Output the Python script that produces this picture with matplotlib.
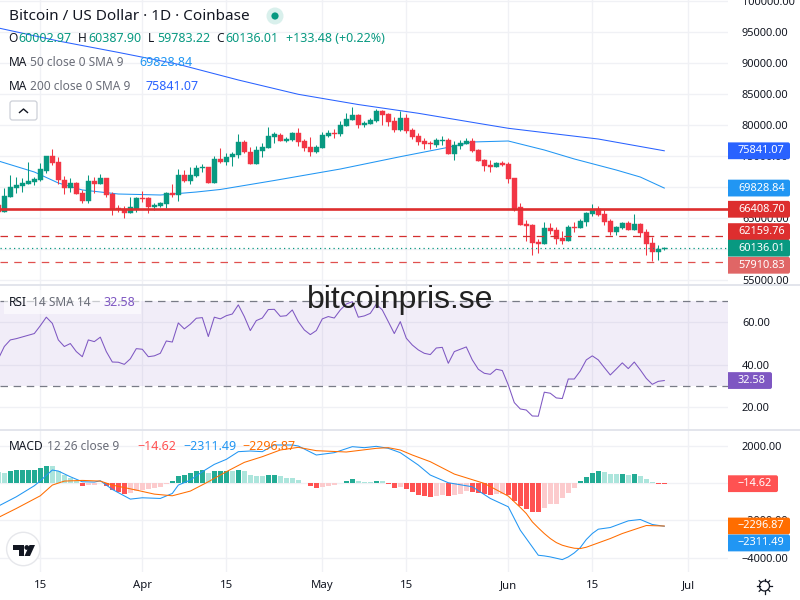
#!/usr/bin/env python
# coding: utf-8

import numpy as np
import pandas as pd
import matplotlib
matplotlib.use("Agg")
import matplotlib.pyplot as plt
import matplotlib.dates as mdates
from matplotlib.patches import Circle, FancyBboxPatch, Polygon, Rectangle

FONT = "Noto Sans"
plt.rcParams["font.family"] = FONT

GREEN = "#089981"
RED = "#F23645"
GRID = "#F0F1F5"
SEP = "#E0E3EB"
TEXT = "#131722"
GREY = "#6A6D78"

opens = [67100, 65910, 68440, 69780, 70160, 70480, 70750, 71130, 72580, 75050, 73980, 71130, 69780, 70590,
         69090, 67740, 70910, 70480, 71450, 68870, 66560, 66450, 65860, 66450, 68170, 68170, 66830, 66930,
         67260, 68980, 68760, 71940, 71020, 71770, 73010, 73170, 70700, 74460, 74090, 74890, 75160, 77260,
         75700, 73760, 75860, 76340, 78120, 78390, 77470, 77580, 78660, 77470, 76400, 75590, 76340, 78230,
         78710, 78550, 79840, 80810, 81610, 79950, 80160, 80650, 82260, 81780, 80590, 79190, 81180, 79190,
         78230, 77420, 77150, 76780, 77470, 77580, 75370, 76660, 76940, 77420, 75970, 74360, 73550, 73230,
         73920, 73710, 71450, 66780, 64030, 63870, 61180, 60860, 63390, 63070, 61780, 61290, 63550, 63390,
         64360, 65650, 66450, 65650, 64520, 62740, 63390, 64190, 63070, 64030, 62740, 60970, 59520, 60002.97]
highs = [67360, 69780, 71940, 71670, 71400, 73980, 71670, 73820, 75050, 76130, 74790, 71770, 71510, 70860,
         69520, 71940, 71560, 72100, 71450, 69140, 67100, 66990, 68330, 68440, 69350, 68440, 67360, 67630,
         69250, 70480, 72900, 72740, 73280, 73550, 73710, 73170, 75000, 76240, 75430, 75700, 78500, 77580,
         76400, 76610, 77040, 79680, 78930, 78660, 78120, 78930, 79520, 77690, 78010, 76770, 78930, 79190,
         79300, 80700, 81880, 82850, 81780, 80700, 81080, 82530, 82420, 81990, 81350, 82260, 81780, 79520,
         78760, 77950, 77470, 77950, 78230, 77860, 77420, 77580, 77950, 77900, 76130, 74520, 74360, 74030,
         74200, 74030, 71450, 67420, 64680, 64030, 61560, 64360, 64240, 63600, 62860, 63870, 64360, 64840,
         65970, 67260, 66940, 66290, 64840, 63710, 64360, 64520, 65650, 64190, 63230, 61940, 60650, 60387.90]
lows = [65750, 65910, 68440, 68980, 69250, 70480, 70320, 70970, 72200, 73550, 70480, 68820, 69250, 68870,
        67470, 67360, 69090, 70480, 68330, 65480, 65910, 65050, 65860, 66020, 67630, 65860, 66290, 66720,
        66560, 68440, 67740, 70860, 70480, 71670, 72470, 70700, 70700, 73920, 73550, 73390, 74620, 75540,
        73760, 73760, 74890, 76340, 77150, 77370, 77310, 77470, 76670, 75860, 75050, 75430, 76340, 78120,
        77850, 78230, 79840, 80810, 79520, 79730, 80160, 80480, 80000, 79840, 78930, 79030, 78710, 77740,
        76820, 76130, 76130, 76450, 76780, 75370, 74360, 76130, 76940, 75700, 74200, 72580, 72420, 73230,
        73390, 70700, 66130, 63870, 61340, 59030, 59310, 60860, 62420, 60810, 60810, 61290, 62740, 63390,
        63710, 65320, 65320, 63870, 62260, 62260, 63230, 63070, 63070, 61940, 59030, 58070, 58230, 59783.22]
closes = [65910, 68550, 70050, 70320, 70700, 70970, 71290, 72900, 75050, 73920, 71130, 69780, 70700, 68870,
          67740, 70970, 70480, 71450, 68760, 66450, 66400, 65860, 66720, 68170, 68060, 66770, 67040, 67360,
          69090, 68710, 71940, 70970, 71940, 73120, 73170, 70700, 74460, 74090, 74790, 75320, 77260, 75650,
          73760, 75970, 76450, 78230, 78500, 77470, 77740, 78660, 77310, 76340, 75700, 76450, 78390, 78660,
          78600, 80000, 80970, 81610, 80000, 80270, 80810, 82260, 81610, 80540, 79190, 81130, 79030, 78110,
          77310, 76940, 76890, 77580, 77580, 75370, 76780, 77150, 77420, 75860, 74200, 73390, 73280, 73870,
          73600, 71340, 66290, 63870, 63760, 61020, 60860, 63390, 62900, 61610, 61290, 63550, 63440, 64520,
          65810, 66290, 65480, 64360, 62740, 63550, 64190, 63070, 64030, 62580, 60810, 59520, 60000, 60136.01]

ma200_dates = ["2024-03-08", "2024-03-18", "2024-03-28", "2024-04-07", "2024-04-17", "2024-04-27", "2024-05-07",
               "2024-05-17", "2024-05-27", "2024-06-01", "2024-06-06", "2024-06-16", "2024-06-27"]
ma200 = [95650, 93550, 91710, 89790, 87260, 84950, 83300, 81890, 80270, 79470, 78890, 77740, 75841.07]

ma50_dates = ["2024-03-08", "2024-03-14", "2024-03-18", "2024-03-22", "2024-03-28", "2024-04-04", "2024-04-10",
              "2024-04-14", "2024-04-23", "2024-05-04", "2024-05-14", "2024-05-22", "2024-05-26", "2024-06-01",
              "2024-06-07", "2024-06-12", "2024-06-19", "2024-06-23", "2024-06-27"]
ma50 = [74200, 72420, 70650, 69520, 68870, 68710, 69190, 69600, 71050, 72900, 74890, 76400, 77260, 77420,
        75970, 74520, 72740, 71610, 69828.84]

rsi = [42.8, 48.6, 51.7, 52.3, 53.1, 53.9, 54.7, 58.4, 62.4, 59.5, 51.7, 48.6, 50.0, 46.2, 43.8, 51.7, 50.9, 53.0,
       46.2, 41.3, 41.2, 40.2, 42.8, 47.6, 47.3, 43.8, 44.2, 45.4, 51.2, 50.7, 59.7, 56.9, 59.1, 61.9, 62.2, 53.3,
       62.4, 61.6, 63.1, 63.9, 68.2, 62.7, 56.1, 60.8, 62.0, 66.0, 66.1, 62.8, 63.1, 65.8, 60.3, 56.4, 54.2, 56.1,
       61.6, 62.7, 62.0, 65.8, 68.6, 69.7, 62.4, 63.0, 64.2, 68.5, 65.8, 60.3, 54.7, 60.3, 52.5, 49.3, 47.0, 45.4,
       44.8, 47.9, 48.2, 40.7, 46.2, 47.3, 48.4, 42.3, 37.9, 36.0, 35.5, 37.9, 37.3, 30.5, 22.2, 19.2, 18.7, 15.9,
       15.8, 27.1, 26.6, 24.4, 24.1, 33.3, 33.3, 37.1, 42.3, 44.2, 42.3, 38.7, 35.2, 38.0, 40.9, 38.2, 41.3, 37.6,
       33.6, 30.8, 32.2, 32.58]

macd_hist = [595, 577, 685, 721, 724, 728, 732, 847, 937, 928, 667, 451, 270, 144, -126, -90, -72, 36, -126, -360,
             -487, -577, -505, -396, -360, -288, -270, -198, -54, 126, 396, 451, 577, 685, 721, 577, 685, 688, 692,
             685, 739, 667, 451, 414, 405, 451, 454, 396, 288, 279, 180, 36, -144, -252, -180, -126, -90, 36, 108,
             234, 126, 90, 81, 126, 108, -18, -234, -216, -306, -469, -631, -685, -739, -685, -631, -685, -631,
             -577, -432, -469, -541, -577, -613, -577, -573, -649, -955, -1243, -1388, -1532, -1550, -1333, -1117,
             -1114, -793, -523, -252, 108, 342, 559, 667, 613, 505, 496, 501, 451, 505, 396, 234, 90, -9, -14.62]

macd_dates = ["2024-03-08", "2024-03-11", "2024-03-14", "2024-03-15", "2024-03-17", "2024-03-18", "2024-03-20",
              "2024-03-22", "2024-03-24", "2024-03-25", "2024-03-27", "2024-03-30", "2024-04-01", "2024-04-04",
              "2024-04-06", "2024-04-07", "2024-04-09", "2024-04-11", "2024-04-13", "2024-04-15", "2024-04-17",
              "2024-04-19", "2024-04-21", "2024-04-23", "2024-04-26", "2024-04-27", "2024-04-30", "2024-05-03",
              "2024-05-06", "2024-05-08", "2024-05-10", "2024-05-12", "2024-05-14", "2024-05-17", "2024-05-19",
              "2024-05-22", "2024-05-26", "2024-05-29", "2024-06-01", "2024-06-02", "2024-06-03", "2024-06-04",
              "2024-06-05", "2024-06-06", "2024-06-07", "2024-06-08", "2024-06-10", "2024-06-11", "2024-06-12",
              "2024-06-13", "2024-06-14", "2024-06-15", "2024-06-16", "2024-06-18", "2024-06-21", "2024-06-23",
              "2024-06-25", "2024-06-27"]
macd_line = [-1225, -721, -126, 144, 721, 667, 360, 90, 72, 144, -324, -847, -775, -811, -541, -90, 180, 631, 1027,
             1297, 1712, 1748, 1712, 2072, 2072, 2018, 1532, 1658, 1982, 1928, 2000, 1892, 1658, 991, 451, 36, -180,
             -811, -1261, -1892, -2523, -2973, -3424, -3874, -3910, -3964, -4109, -3964, -3748, -3460, -3027, -2703,
             -2469, -2379, -2018, -1946, -2216, -2311.49]

signal_dates = ["2024-03-08", "2024-03-11", "2024-03-15", "2024-03-17", "2024-03-19", "2024-03-22", "2024-03-25",
                "2024-03-27", "2024-03-31", "2024-04-03", "2024-04-06", "2024-04-09", "2024-04-12", "2024-04-15",
                "2024-04-18", "2024-04-21", "2024-04-24", "2024-04-27", "2024-04-30", "2024-05-05", "2024-05-10",
                "2024-05-12", "2024-05-14", "2024-05-16", "2024-05-19", "2024-05-23", "2024-05-28", "2024-06-01",
                "2024-06-02", "2024-06-03", "2024-06-04", "2024-06-05", "2024-06-06", "2024-06-07", "2024-06-08",
                "2024-06-09", "2024-06-10", "2024-06-11", "2024-06-12", "2024-06-13", "2024-06-14", "2024-06-16",
                "2024-06-18", "2024-06-20", "2024-06-24", "2024-06-27"]
signal_line = [-1838, -1352, -667, -90, 126, 162, 126, -90, -360, -577, -667, -414, 90, 631, 1135, 1442, 1802, 1946,
               1766, 1694, 1892, 1928, 1802, 1532, 1171, 505, 0, -685, -991, -1297, -1622, -2072, -2397, -2703,
               -2973, -3190, -3334, -3424, -3496, -3514, -3442, -3208, -2973, -2703, -2271, -2296.87]

price_ticks = list(range(55000, 100001, 5000))
rsi_ticks = [20, 40, 60]
macd_ticks = [-4000, -2000, 0, 2000]
date_ticks = ["2024-03-15", "2024-04-01", "2024-04-15", "2024-05-01", "2024-05-15", "2024-06-01", "2024-06-15",
              "2024-07-01"]
date_labels = ["15", "Apr", "15", "May", "15", "Jun", "15", "Jul"]

last_price = closes[-1]
line_up = 66408.70
line_mid = 62159.76
line_low = 57910.83

days = mdates.date2num(pd.date_range("2024-03-08", periods=len(closes)))


def to_num(dates):
    return mdates.date2num(pd.to_datetime(dates))


apr1 = mdates.date2num(pd.Timestamp("2024-04-01"))
xlim = (apr1 - 23.72, apr1 + 97.62)

fig = plt.figure(figsize=(8, 6), dpi=100, facecolor="white")


def pane(top, bottom):
    a = fig.add_axes([0, 1 - bottom / 600, 728 / 800, (bottom - top) / 600])
    for s in a.spines.values():
        s.set_visible(False)
    a.set_xlim(*xlim)
    a.set_xticks(to_num(date_ticks))
    a.set_xticklabels([])
    a.yaxis.tick_right()
    a.tick_params(length=0, labelsize=7.9, labelcolor=TEXT, pad=10)
    a.grid(True, color=GRID, lw=1.0)
    a.set_axisbelow(True)
    return a


# price pane
ax = pane(0, 285)
ax.set_ylim(54194, 100161)
ax.set_yticks(price_ticks)
ax.set_yticklabels(["%.2f" % t for t in price_ticks])

ax.plot(to_num(ma200_dates), ma200, color="#2962FF", lw=0.75, zorder=2)
ax.plot(to_num(ma50_dates), ma50, color="#2196F3", lw=0.75, zorder=2)

colors = [GREEN if c >= o else RED for o, c in zip(opens, closes)]
bottoms = np.minimum(opens, closes)
heights = np.abs(np.array(closes) - np.array(opens))
ax.vlines(days, lows, highs, color=colors, lw=0.75, zorder=3)
ax.bar(days, heights, bottom=bottoms, width=0.84, color=colors, edgecolor=colors, lw=0.3, zorder=4)

ax.axhline(line_up, color="#DD2E2E", lw=1.9, zorder=5)
ax.axhline(line_mid, color="#D32F2F", lw=0.9, ls=(0, (6, 5)), zorder=5)
ax.axhline(line_low, color="#E0504F", lw=0.9, ls=(0, (6, 5)), zorder=5)
ax.axhline(last_price, color=GREEN, lw=0.9, ls=(0, (1, 2.6)), zorder=5)

# rsi pane
ax_rsi = pane(285, 430)
ax_rsi.set_ylim(9.3, 77.55)
ax_rsi.set_yticks(rsi_ticks)
ax_rsi.set_yticklabels(["%.2f" % t for t in rsi_ticks])
ax_rsi.axhspan(30, 70, color="#7E57C2", alpha=0.1, lw=0, zorder=1)
ax_rsi.axhline(70, color="#787B86", lw=0.9, ls=(0, (6, 4.5)), zorder=2)
ax_rsi.axhline(30, color="#787B86", lw=0.9, ls=(0, (6, 4.5)), zorder=2)
ax_rsi.plot(days, rsi, color="#7E57C2", lw=0.75, zorder=3)

# macd pane
ax_macd = pane(430, 572)
ax_macd.set_ylim(-4778, 2881)
ax_macd.set_yticks(macd_ticks)
ax_macd.set_yticklabels(["\u2212%.2f" % -t if t < 0 else "%.2f" % t for t in macd_ticks])

hist_colors = []
for i, v in enumerate(macd_hist):
    prev = macd_hist[i - 1] if i else v + 1
    if v >= 0:
        hist_colors.append("#22AB94" if v > prev else "#ACE5DC")
    else:
        hist_colors.append("#FF5252" if v < prev else "#FCCBCD")
ax_macd.bar(days, macd_hist, width=0.84, color=hist_colors, lw=0, zorder=2)
ax_macd.plot(to_num(macd_dates), macd_line, color="#2196F3", lw=0.75, zorder=3)
ax_macd.plot(to_num(signal_dates), signal_line, color="#FF6D00", lw=0.75, zorder=3)

ax_macd.set_xticklabels(date_labels)
ax_macd.tick_params(axis="x", labelsize=8.2, labelcolor=TEXT, pad=6)

# overlay in pixel units for legends, price tags and icons
ov = fig.add_axes([0, 0, 1, 1], zorder=10)
ov.set_xlim(0, 800)
ov.set_ylim(600, 0)
ov.axis("off")
ov.patch.set_alpha(0)

for y in (285, 430):
    ov.plot([0, 800], [y, y], color=SEP, lw=1.3)


def label(x, y, s, color=TEXT, size=8.6):
    ov.text(x, y, s, color=color, fontsize=size, va="center", ha="left")


def tag(a, value, s, color, width=62, dy=0):
    y = 600 - a.transData.transform((0, value))[1] + dy
    box = FancyBboxPatch((724, y - 8.4), width + 4, 16.8, boxstyle="round,pad=0,rounding_size=2",
                         fc=color, ec="none", zorder=4)
    ov.add_patch(box)
    box.set_clip_path(Rectangle((728, y - 9), width + 1, 18, transform=ov.transData))
    ov.text(738, y, s, color="white", fontsize=7.9, va="center", ha="left", zorder=5)


tag(ax, ma200[-1], "75841.07", "#2962FF")
tag(ax, ma50[-1], "69828.84", "#2196F3")
tag(ax, line_up, "66408.70", "#DD2E2E")
tag(ax, line_mid, "62159.76", "#DD2E2E", dy=-4)
tag(ax, line_low, "57910.83", "#E06666", dy=3.3)
tag(ax, last_price, "60136.01", GREEN)
tag(ax_rsi, rsi[-1], "32.58", "#7E57C2", width=44)
tag(ax_macd, macd_hist[-1], "\u221214.62", "#FF5252", width=50)
tag(ax_macd, signal_line[-1], "\u22122296.87", "#FF6D00")
tag(ax_macd, macd_line[-1], "\u22122311.49", "#2196F3", dy=16.7)

# legends
label(9, 16.5, "Bitcoin / US Dollar \u00b7 1D \u00b7 Coinbase", size=11)
ov.add_patch(Circle((275, 16), 8.5, fc="#D9F0EC", ec="none"))
ov.add_patch(Circle((275, 16), 3.6, fc=GREEN, ec="none"))

for x, s in [(8, "O"), (78, "H"), (148, "L"), (216, "C")]:
    label(x, 39, s)
for x, s in [(18, "60002.97"), (88, "60387.90"), (157, "59783.22"), (225, "60136.01"), (286, "+133.48 (+0.22%)")]:
    label(x, 39, s, color=GREEN, size=9)

label(9, 62.5, "MA")
label(30, 62.5, "50 close 0 SMA 9", color=GREY)
label(139, 62.5, "69828.84", color="#2196F3", size=9)
label(9, 87, "MA")
label(30, 87, "200 close 0 SMA 9", color=GREY)
label(146, 87, "75841.07", color="#2962FF", size=9)

ov.add_patch(Rectangle((4, 290), 137, 24, fc="white", alpha=0.6, ec="none"))
label(9, 302, "RSI")
label(32, 302, "14 SMA 14", color=GREY)
label(103, 302, "32.58", color="#7E57C2", size=9)

label(9, 446, "MACD")
label(47, 446, "12 26 close 9", color=GREY)
label(137, 446, "\u221214.62", color="#FF5252", size=9)
label(183, 446, "\u22122311.49", color="#2196F3", size=9)
label(242, 446, "\u22122296.87", color="#FF6D00", size=9)

# collapse button
ov.add_patch(FancyBboxPatch((10, 101), 27, 19, boxstyle="round,pad=0,rounding_size=2.5",
                            fc="white", ec="#CDD0D8", lw=0.9))
ov.plot([19.5, 23.5, 27.5], [112.5, 109, 112.5], color=TEXT, lw=1.0)

# logo badge
ov.add_patch(Circle((23.3, 549), 16.7, fc="white", ec="#E6E7EB", lw=1.0))
ov.add_patch(Polygon([(13, 545), (24, 545), (24, 556), (18.5, 556), (18.5, 550), (13, 550)], fc=TEXT, ec="none"))
ov.add_patch(Circle((26.8, 547.5), 2.4, fc=TEXT, ec="none"))
ov.add_patch(Polygon([(29.5, 545), (35, 545), (30, 556), (24.5, 556)], fc=TEXT, ec="none"))

# settings gear
ov.add_patch(Circle((764.5, 586), 5, fc="white", ec=TEXT, lw=0.9))
for ang in np.arange(0, 360, 45):
    t = np.radians(ang)
    ov.plot([764.5 + 5 * np.cos(t), 764.5 + 7.5 * np.cos(t)], [586 + 5 * np.sin(t), 586 + 7.5 * np.sin(t)],
            color=TEXT, lw=0.9)

ov.text(400, 300, "bitcoinpris.se", fontsize=23, family="Liberation Sans", color="#222222",
        ha="center", va="center")

fig.savefig("out.png", dpi=100)
print("saving out.png")
